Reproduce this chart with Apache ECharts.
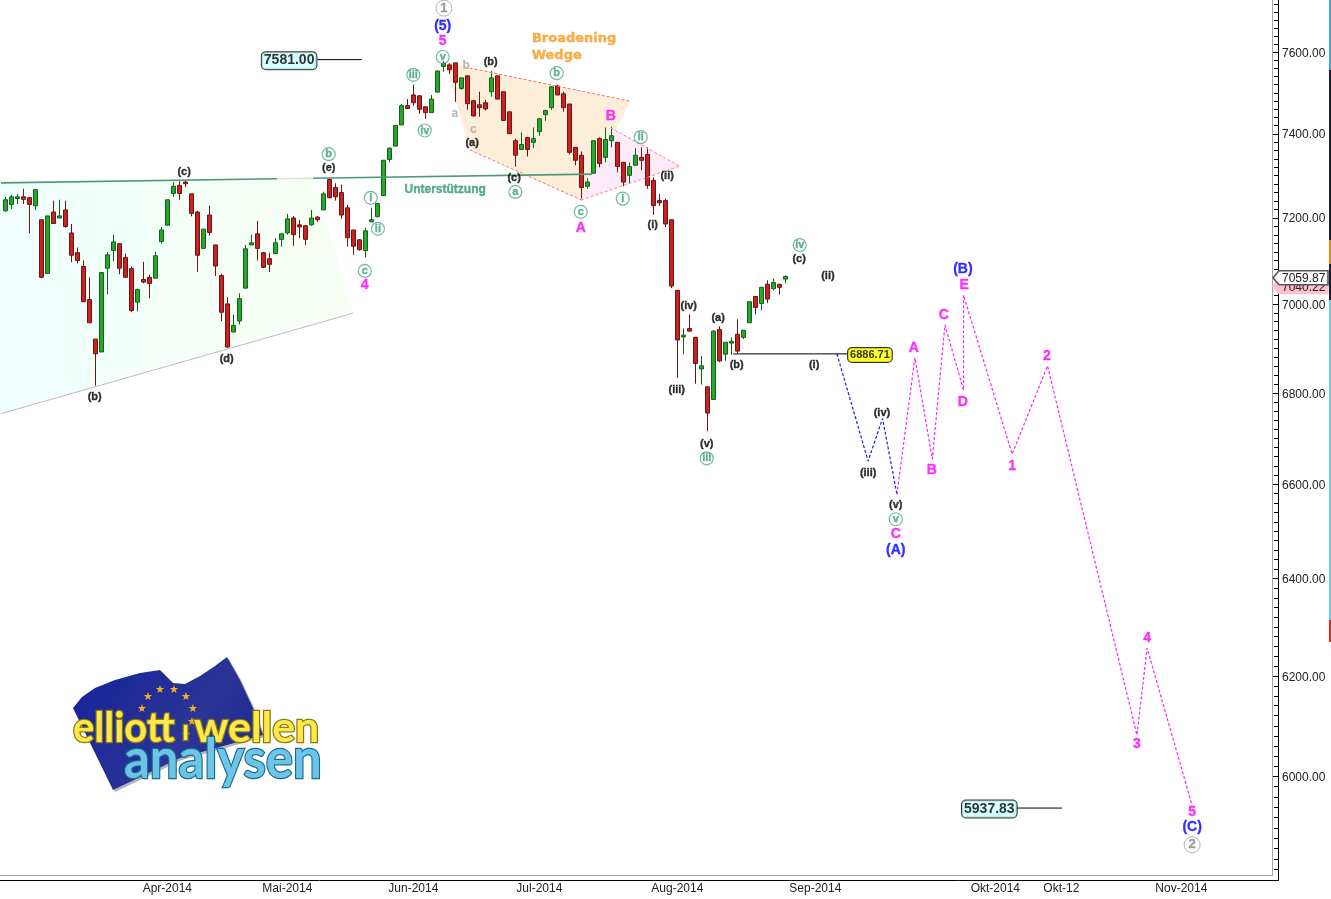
<!DOCTYPE html>
<html><head><meta charset="utf-8">
<style>html,body{margin:0;padding:0;background:#fff}#c{width:1331px;height:899px}</style>
<script src="https://cdn.jsdelivr.net/npm/echarts@6/dist/echarts.min.js"></script>
</head><body><div id="c"></div>
<script>
const opens=[7216,7231,7245,7249,7247,7228,7195,7070,7213,7199,7218,7164,7118,7086,7010,6920,6891,7082,7123,7139,7107,7081,7004,7056,7061,7059,7144,7182,7257,7276,7284,7256,7213,7128,7206,7136,7065,7000,6936,6961,7036,7136,7162,7118,7104,7116,7149,7164,7199,7183,7181,7183,7201,7218,7290,7271,7259,7223,7171,7148,7123,7190,7202,7252,7338,7370,7421,7468,7494,7492,7465,7451,7501,7564,7568,7573,7510,7541,7480,7470,7475,7502,7541,7502,7453,7383,7362,7391,7379,7405,7446,7463,7516,7497,7472,7367,7348,7274,7305,7388,7343,7383,7379,7331,7300,7324,7343,7350,7288,7240,7240,7195,7031,6925,6944,6924,6853,6813,6785,6942,6886,6911,6931,6924,6957,7017,7001,7045,7035,7045,7057];
const closes=[7242,7249,7249,7243,7231,7266,7061,7204,7186,7204,7179,7112,7100,7005,6957,6887,7072,7113,7143,7082,7061,6985,7033,7050,7047,7111,7171,7242,7274,7257,7280,7210,7112,7173,7165,7087,6981,6902,6951,7012,7127,7141,7128,7084,7091,7141,7162,7197,7160,7178,7149,7199,7195,7256,7247,7249,7206,7153,7133,7125,7169,7195,7233,7336,7365,7420,7468,7461,7475,7459,7451,7484,7553,7572,7556,7525,7536,7473,7443,7463,7460,7536,7484,7432,7400,7348,7374,7362,7388,7436,7456,7514,7494,7463,7355,7336,7271,7284,7383,7328,7386,7395,7321,7284,7321,7348,7336,7276,7228,7235,7185,7041,6918,6929,6938,6865,6860,6755,6938,6871,6913,6915,6893,6940,7005,6992,7038,7011,7049,7038,7063];
const lows=[7214,7220,7232,7232,7163,7218,7059,7070,7186,7199,7176,7096,7093,7004,6957,6816,6891,7022,7098,7068,7060,6981,6983,7047,7013,7059,7139,7182,7249,7242,7272,7203,7073,7128,7158,7064,6961,6901,6936,6953,7036,7136,7100,7082,7073,7116,7132,7160,7134,7152,7136,7181,7190,7218,7245,7240,7197,7132,7113,7123,7107,7190,7201,7252,7331,7370,7421,7461,7468,7448,7436,7451,7501,7551,7546,7477,7507,7458,7441,7441,7456,7490,7484,7432,7400,7321,7360,7345,7365,7395,7431,7458,7494,7453,7350,7324,7245,7268,7305,7319,7331,7367,7307,7274,7281,7324,7312,7268,7206,7228,7178,7036,6833,6886,6938,6820,6818,6715,6785,6868,6871,6884,6888,6920,6957,6976,6985,7002,7031,7021,7047];
const highs=[7249,7254,7256,7268,7249,7266,7195,7204,7240,7242,7240,7185,7130,7100,7061,6920,7072,7120,7160,7139,7116,7086,7035,7097,7067,7120,7178,7242,7284,7286,7286,7256,7216,7173,7228,7136,7069,7015,6976,7024,7136,7160,7192,7120,7118,7152,7162,7209,7204,7195,7181,7218,7204,7261,7293,7281,7278,7230,7171,7150,7176,7223,7235,7336,7367,7420,7472,7484,7519,7494,7465,7494,7553,7577,7572,7573,7536,7541,7482,7502,7482,7553,7541,7502,7453,7388,7403,7391,7415,7436,7458,7516,7519,7502,7472,7367,7357,7293,7383,7391,7415,7417,7379,7331,7331,7365,7367,7367,7295,7256,7245,7195,7031,6944,6976,6924,6882,6813,6940,6949,6913,6924,6965,6940,7005,7017,7038,7054,7058,7045,7065];

const xTickIndex=[6,27,47,68,89,112,135,165,176,196,207];
const xTickLabels=['','Apr-2014','Mai-2014','Jun-2014','Jul-2014','Aug-2014','Sep-2014','Okt-2014','Okt-12','Nov-2014',''];
const yLabelValues=[6000,6200,6400,6600,6800,7000,7200,7400,7600];
const yMinorValues=[];for(let v=5800;v<=7720;v+=20)yMinorValues.push(v);
const currentPrice=7059.87, previousPrice=7040.22;

const supportLine=[[0.1,7282],[46.3,7292]];
const supportLineFaded=[[46.3,7292],[52.3,7293]];
const supportLineRest=[[52.3,7293],[98.8,7303]];
const triangleFill=[[-0.5,7282],[52.3,7293],[59,6979],[-0.5,6750]];
const triangleBottom=[[0.1,6753],[59,6979]];
const wedgeFill=[[74.3,7575],[105.1,7479],[97.1,7241],[78.4,7361]];
const wedgeTop=[[78.4,7560],[105.1,7479]];
const wedgeBottom=[[78.4,7361],[97.1,7241]];
const smallWedgeFill=[[101.9,7414],[113.4,7322],[96.9,7241]];
const smallWedgeEdge=[[101.9,7414],[113.4,7322],[96.9,7241]];
const blueProjection=[[139.6,6886.71],[144.8,6650],[147.2,6743],[149.6,6578]];
const magentaProjection=[[149.6,6578],[152.6,6878],[155.5,6654],[157.6,6952],[160.7,6806],[160.7,7020],[168.8,6665],[174.7,6860],[189.6,6081],[191.3,6256],[198.8,5943]];
const priceLines=[[[53,7581],[60.4,7581]],[[122.3,6886.71],[141.4,6886.71]],[[169.6,5937.83],[177.1,5937.83]]];
const cyanBoxes=[[48.3,7581,'7581.00'],[165,5937.83,'5937.83']];
const yellowBoxes=[[145.1,6886.71,'6886.71']];

const blackLabels=[[78.8,7380,'(a)'],[81.9,7578,'(b)'],[85.8,7296,'(c)'],[111.3,7301,'(ii)'],[108.9,7185,'(i)'],[114.9,6997,'(iv)'],[112.9,6808,'(iii)'],[117.9,6690,'(v)'],[119.8,6970,'(a)'],[122.9,6864,'(b)'],[133.3,7106,'(c)'],[138.1,7066,'(ii)'],[135.8,6864,'(i)'],[144.8,6626,'(iii)'],[147.1,6757,'(iv)'],[149.4,6557,'(v)'],[30.8,7310,'(c)'],[15.9,6793,'(b)'],[37.9,6877,'(d)'],[54.9,7320,'(e)']];
const magentaLabels=[[73.9,7630,'5'],[96.9,7178,'A'],[101.9,7445,'B'],[149.4,6496,'C'],[152.4,6902,'A'],[155.4,6633,'B'],[157.4,6977,'C'],[160.6,6781,'D'],[160.8,7046,'E'],[168.8,6641,'1'],[174.6,6884,'2'],[189.6,6065,'3'],[191.3,6278,'4'],[198.8,5932,'5'],[60.9,7046,'4']];
const blueLabels=[[73.9,7667,'(5)'],[149.4,6462,'(A)'],[160.6,7083,'(B)'],[198.8,5902,'(C)']];
const greyLetters=[[75.9,7450,'a'],[77.8,7568,'b'],[79,7411,'c']];
const greyCircled=[[74.1,7712,'1'],[198.8,5869,'2']];
const tealCircled=[[73.9,7590,'v'],[92.9,7550,'b'],[86,7263,'a'],[96.9,7216,'c'],[106.9,7394,'ii'],[103.9,7247,'i'],[117.9,6658,'iii'],[133.4,7138,'iv'],[149.4,6527,'v'],[54.9,7353,'b'],[60.9,7078,'c'],[61.9,7249,'i'],[63.1,7176,'ii'],[69,7546,'iii'],[70.9,7410,'iv']];
const orangeLabels=[[95.8,7635,'Broadening'],[92.9,7593,'Wedge']];
const tealLabels=[[74.3,7268,'Unterstützung']];

const FONT='"Liberation Sans",Arial,sans-serif';
const categories=Array.from({length:213},(_,i)=>'d'+i);
const candleData=opens.map((o,i)=>[o,closes[i],lows[i],highs[i]]);
const AX={xAxisIndex:1,yAxisIndex:0};
const line=(data,color,type,width,z)=>({type:'line',...AX,data,symbol:'none',silent:true,clip:false,z:z||5,
  lineStyle:{color,type:type||'solid',width:width||1},animation:false});
const poly=(pts,fill,z)=>({type:'custom',...AX,silent:true,clip:false,z:z||1,data:[0],
  renderItem:(p,api)=>({type:'polygon',shape:{points:pts.map(q=>api.coord(q))},style:{fill}})});
const labels=(arr,lab)=>({type:'scatter',...AX,silent:true,clip:false,z:10,symbolSize:1,itemStyle:{color:'transparent'},
  data:arr.map(d=>({value:[d[0],d[1]],text:d[2]})),
  label:Object.assign({show:true,position:'inside',offset:[0,1],fontFamily:FONT,fontWeight:'bold',formatter:p=>p.data.text},lab)});
const tag=(price,fill,stroke,z)=>({type:'custom',...AX,silent:true,clip:false,z,data:[0],
  renderItem:(p,api)=>{const y=api.coord([0,price])[1];return{type:'group',children:[
    {type:'polygon',shape:{points:[[1273,y],[1279,y-7],[1328,y-7],[1328,y+7],[1279,y+7]]},style:{fill,stroke,lineWidth:1.6}},
    {type:'text',style:{x:1282,y:y+1,text:price.toFixed(2),fill:'#222',font:'12px '+FONT,align:'left',verticalAlign:'middle'}}]}}});
const txt=(x,y,sx,text,fill,stroke,fs,z)=>({type:'text',z,silent:true,x,y,scaleX:sx,
  style:{x:0,y:0,text,fill,stroke,lineWidth:2.5,strokeFirst:true,font:'bold '+fs+'px "Lato"',align:'left',verticalAlign:'middle'}});

const stars=[[148,697],[160,690],[174,690],[186,697],[193,709],[192,722],[186,735],[142,709]];
const flagPts=[[73,708],[82,697],[95,688],[115,680],[140,673],[160,670],[168,678],[173,683],[185,684],[200,676],[215,666],[227,657],[240,680],[253,708],[263,735],[180,758],[113,790]];
const graphic=[
 {type:'rect',shape:{x:1329,y:0,width:2,height:70},style:{fill:'#4a9fdc'},silent:true},
 {type:'rect',shape:{x:1329,y:70,width:2,height:170},style:{fill:'#1a1a2a'},silent:true},
 {type:'rect',shape:{x:1329,y:240,width:2,height:24},style:{fill:'#e88a20'},silent:true},
 {type:'rect',shape:{x:1329,y:264,width:2,height:36},style:{fill:'#1a1a2a'},silent:true},
 {type:'rect',shape:{x:1329,y:300,width:2,height:320},style:{fill:'#7cc4ee'},silent:true},
 {type:'rect',shape:{x:1329,y:620,width:2,height:22},style:{fill:'#d03030'},silent:true},
 {type:'line',shape:{x1:0,y1:880.5,x2:1278,y2:880.5},style:{stroke:'#000',lineWidth:1},silent:true},
 {type:'line',shape:{x1:1278.5,y1:0,x2:1278.5,y2:881},style:{stroke:'#000',lineWidth:1},silent:true},
 {type:'line',shape:{x1:0,y1:875.5,x2:1272,y2:875.5},style:{stroke:'#a8a8a0',lineWidth:1},silent:true},
 {type:'line',shape:{x1:1272.5,y1:0,x2:1272.5,y2:876},style:{stroke:'#a8a8a0',lineWidth:1},silent:true},
 {type:'polygon',z:20,silent:true,x:2,y:2,shape:{points:flagPts},style:{fill:'#b4b4b4'}},
 {type:'polygon',z:21,silent:true,shape:{points:flagPts},
  style:{fill:{type:'linear',x:0,y:0,x2:1,y2:1,colorStops:[{offset:0,color:'#16219a'},{offset:.6,color:'#2a3596'},{offset:1,color:'#1a2288'}]}}},
 ...stars.map(s=>({type:'text',z:22,silent:true,style:{x:s[0],y:s[1],text:'★',fill:'#f0b020',font:'11px "DejaVu Sans"',align:'center',verticalAlign:'middle'}})),
 txt(73,728,.95,'elliott','#ffe94a','#8a7a10',42,23),
 txt(182,731,1,'ı','#ffe94a','#8a7a10',28,23),
 txt(194,728,1.02,'wellen','#ffe94a','#8a7a10',42,23),
 txt(124,760,.91,'analysen','#6cc4e6','#1a6a90',56,24)
];
const heavy=c=>({color:c,textBorderColor:c,textBorderWidth:.35});

const option={
 animation:false,backgroundColor:'#fff',
 grid:{left:2.33,top:0,width:1278,height:880,containLabel:false},
 xAxis:[
  {type:'category',data:categories,boundaryGap:true,axisLine:{show:false},
   axisTick:{inside:true,length:5,alignWithLabel:true,interval:i=>xTickIndex.includes(i),lineStyle:{color:'#000',width:1}},
   axisLabel:{margin:3,interval:i=>xTickIndex.includes(i),color:'#222',fontFamily:FONT,fontSize:12,hideOverlap:false,
    formatter:v=>{const i=xTickIndex.indexOf(+v.slice(1));return i<0?'':xTickLabels[i];}},splitLine:{show:false}},
  {type:'value',min:0.5,max:213.5,show:false,splitLine:{show:false}}
 ],
 yAxis:[{type:'log',logBase:10,min:5800,max:7730,axisLine:{show:false},axisTick:{show:false},axisLabel:{show:false},splitLine:{show:false},minorSplitLine:{show:false}}],
 graphic,
 series:[
  poly(triangleFill,{type:'linear',x:0,y:0,x2:1,y2:0,colorStops:[{offset:0,color:'#effffe'},{offset:1,color:'#f8fff3'}]}),
  poly(wedgeFill,'#fdeed9'),
  poly(smallWedgeFill,'#fdebf9',2),
  line(triangleBottom,'#c8b4cc'),
  line(wedgeTop,'#ff7070',[3,2]),line(wedgeBottom,'#ff7070',[3,2]),line(smallWedgeEdge,'#ff80a0',[3,2]),
  {type:'candlestick',xAxisIndex:0,yAxisIndex:0,data:candleData,barWidth:5,z:4,silent:true,
   itemStyle:{color:'#2aa62e',color0:'#c92222',borderColor:'#0e6416',borderColor0:'#741010',borderWidth:1}},
  line(supportLine,'#4a9a78','solid',1.6,6),line(supportLineFaded,'#d6e4de','solid',1.6,6),line(supportLineRest,'#4a9a78','solid',1.6,6),
  line(blueProjection,'#1818ff',[3,2],1.2),line(magentaProjection,'#ff20ff',[3,2],1.2),
  ...priceLines.map(d=>line(d,'#000')),
  {type:'custom',...AX,silent:true,clip:false,z:7,data:[0],renderItem:(p,api)=>({type:'group',children:[
    ...yMinorValues.map(v=>{const y=Math.round(api.coord([0,v])[1])+.5;const mj=yLabelValues.includes(v);
      return{type:'line',shape:{x1:mj?1273:1274,y1:y,x2:1278,y2:y},style:{stroke:'#000',lineWidth:1}}}),
    ...yLabelValues.map(v=>({type:'text',style:{x:1282,y:api.coord([0,v])[1]+1.5,text:v.toFixed(2),fill:'#222',font:'12px '+FONT,align:'left',verticalAlign:'middle'}}))
  ]})},
  tag(previousPrice,'#ffc0cb','#ffc0cb',8),tag(currentPrice,'#fff','#555',9),
  labels(blackLabels,{...heavy('#000'),fontSize:11}),
  labels(magentaLabels,{...heavy('#ff00ff'),fontSize:14}),
  labels(blueLabels,{...heavy('#0000ff'),fontSize:14}),
  labels(greyLetters,{color:'#a0a0a0',fontSize:12}),
  labels(greyCircled,{...heavy('#8a8a8a'),fontSize:13,borderColor:'#a0a0a0',borderWidth:1,borderRadius:9,width:16,height:16,lineHeight:16,align:'center',verticalAlign:'middle'}),
  labels(tealCircled,{...heavy('#3f9f7c'),fontSize:11,borderColor:'#4aa888',borderWidth:1.2,borderRadius:7,width:13,height:13,lineHeight:13,align:'center',verticalAlign:'middle'}),
  labels(orangeLabels,{...heavy('#f59a1e'),fontSize:13,fontFamily:'"DejaVu Sans"'}),
  labels(tealLabels,{...heavy('#2f9a70'),fontSize:12}),
  labels(cyanBoxes,{color:'#000',fontSize:14,backgroundColor:'#ccffff',borderColor:'#000',borderWidth:1,borderRadius:4,padding:[2,2,1,2]}),
  labels(yellowBoxes,{color:'#000',fontSize:11,backgroundColor:'#ffff00',borderColor:'#000',borderWidth:1,borderRadius:4,padding:[2,2,1,2]})
 ]
};
echarts.init(document.getElementById('c'),null,{renderer:'canvas'}).setOption(option);
</script></body></html>
